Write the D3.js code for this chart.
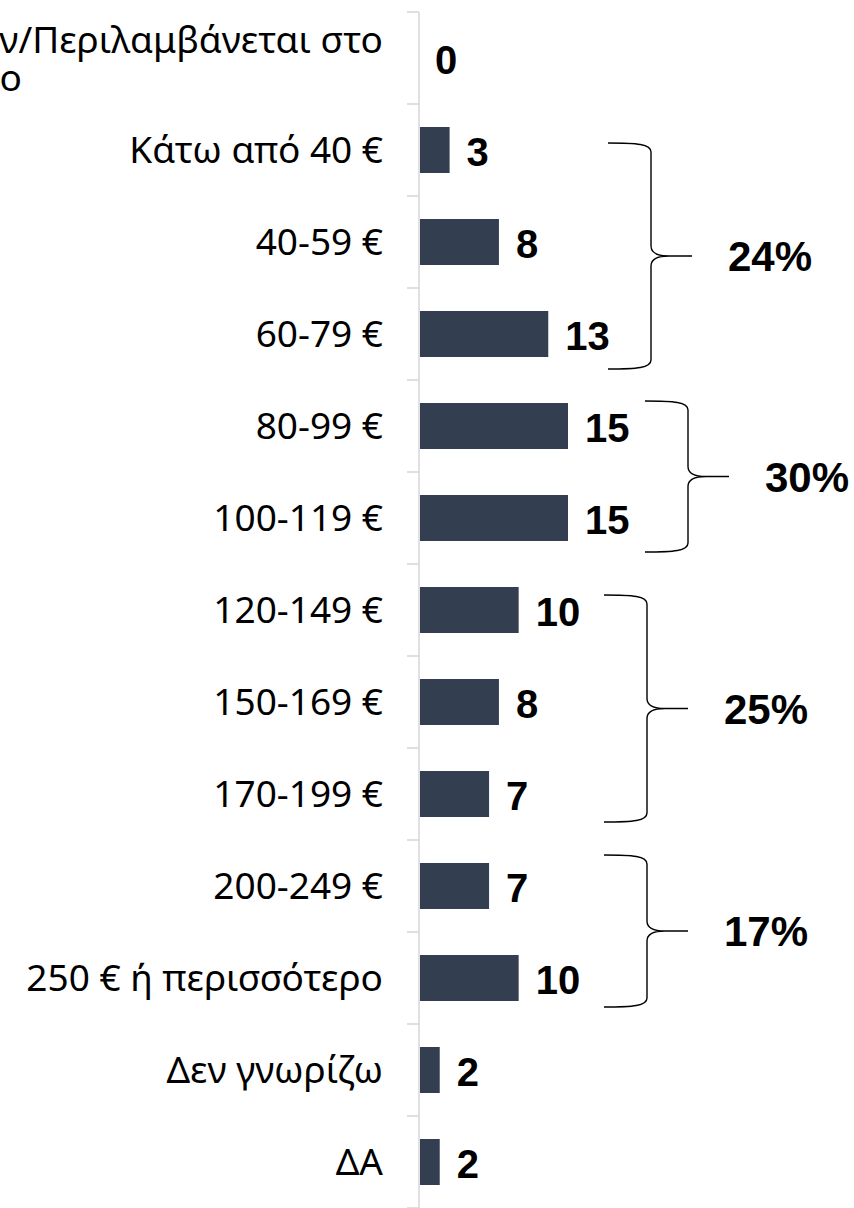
<!DOCTYPE html>
<html>
<head>
<meta charset="utf-8">
<script src="https://cdn.jsdelivr.net/npm/d3@7"></script>
<style>
body { margin: 0; background: #ffffff; }
</style>
</head>
<body>
<div id="chart"></div>
<script>
//Categories, top to bottom
let categories = [
    "Δωρεάν/Περιλαμβάνεται στο πακέτο",
    "Κάτω από 40 €",
    "40-59 €",
    "60-79 €",
    "80-99 €",
    "100-119 €",
    "120-149 €",
    "150-169 €",
    "170-199 €",
    "200-249 €",
    "250 € ή περισσότερο",
    "Δεν γνωρίζω",
    "ΔΑ"
];

//Values (%) for each category
let values = [0, 3, 8, 13, 15, 15, 10, 8, 7, 7, 10, 2, 2];

//Groups marked with a bracket on the right
let groupFirst = ["Κάτω από 40 €", "80-99 €", "120-149 €", "200-249 €"];
let groupLast = ["60-79 €", "100-119 €", "170-199 €", "250 € ή περισσότερο"];
let groupLabels = ["24%", "30%", "25%", "17%"];

let data = categories.map(function(c, i) { return { cat: c, value: values[i] }; });

//Set graph size
let svgWidth = 854;
let svgHeight = 1208;
let axisX = 419;
let barColor = "#333f50";

//Scales
let y = d3.scaleBand()
    .domain(categories)
    .range([12, svgHeight])
    .paddingInner(0.5)
    .paddingOuter(0.25);

let x = d3.scaleLinear()
    .domain([0, 15])
    .range([axisX + 1, axisX + 149]);

let svg = d3.select("#chart")
    .append("svg")
    .attr("width", svgWidth)
    .attr("height", svgHeight);

//Bars
svg.selectAll("rect.bar")
    .data(data)
    .enter()
    .append("rect")
    .attr("class", "bar")
    .attr("x", x(0))
    .attr("y", function(d) { return y(d.cat); })
    .attr("width", function(d) { return x(d.value) - x(0); })
    .attr("height", y.bandwidth())
    .attr("fill", barColor);

//Axis line and tick marks between categories
let half = y.step() * y.paddingInner() / 2;
let boundaries = categories.map(function(c) { return y(c) - half; });
boundaries.push(y(categories[categories.length - 1]) + y.bandwidth() + half);

svg.append("line")
    .attr("x1", axisX).attr("x2", axisX)
    .attr("y1", boundaries[0]).attr("y2", svgHeight)
    .style("stroke", "#d9d9d9")
    .style("stroke-width", 1.6);

svg.selectAll("line.tick")
    .data(boundaries)
    .enter()
    .append("line")
    .attr("class", "tick")
    .attr("x1", axisX - 12).attr("x2", axisX)
    .attr("y1", function(d) { return d; })
    .attr("y2", function(d) { return d; })
    .style("stroke", "#d9d9d9")
    .style("stroke-width", 1.6);

//Category labels (long one wraps, second line left aligned off the page)
let labelX = axisX - 36;
svg.selectAll("text.cat")
    .data(data)
    .enter()
    .append("text")
    .attr("class", "cat")
    .attr("text-anchor", "end")
    .style("font-family", "'Noto Sans', sans-serif")
    .style("font-size", "37px")
    .style("fill", "#000")
    .each(function(d) {
        let t = d3.select(this);
        let cy = y(d.cat) + y.bandwidth() / 2;
        let words = d.cat.split(" ");
        if (d.cat.length > 24) {
            t.append("tspan").attr("x", labelX).attr("y", cy - 5)
                .text(words.slice(0, -1).join(" "));
            t.append("tspan").attr("x", labelX - 361).attr("y", cy + 33)
                .text(words[words.length - 1]);
        } else {
            t.attr("x", labelX).attr("y", cy + 13).text(d.cat);
        }
    });

//Value labels
svg.selectAll("text.value")
    .data(data)
    .enter()
    .append("text")
    .attr("class", "value")
    .attr("x", function(d) { return x(d.value) + (d.value === 0 ? 15 : 17); })
    .attr("y", function(d) { return y(d.cat) + y.bandwidth() / 2 + 16; })
    .style("font-family", "'Liberation Sans', Arial, sans-serif")
    .style("font-weight", "bold")
    .style("font-size", "40px")
    .style("fill", "#000")
    .text(function(d) { return d.value; });

//Curly brackets with group totals
let braceLayout = [
    { top: 16, bottom: 12, dx: 83 },
    { top: -2, bottom: 11, dx: 120 },
    { top: 8, bottom: 5, dx: 79 },
    { top: -8, bottom: 6, dx: 79 }
];

function bracePath(xl, xv, xt, yt, ym, yb) {
    return "M" + xl + "," + yt +
        " C" + (xv - 14) + "," + yt + " " + xv + "," + (yt + 1) + " " + xv + "," + (yt + 9) +
        " L" + xv + "," + (ym - 10) +
        " C" + xv + "," + (ym - 3) + " " + (xv + 6) + "," + ym + " " + (xv + 18) + "," + ym +
        " L" + xt + "," + ym +
        " M" + (xv + 18) + "," + ym +
        " C" + (xv + 6) + "," + ym + " " + xv + "," + (ym + 3) + " " + xv + "," + (ym + 10) +
        " L" + xv + "," + (yb - 9) +
        " C" + xv + "," + (yb - 1) + " " + (xv - 14) + "," + yb + " " + xl + "," + yb;
}

groupLabels.forEach(function(label, i) {
    let lay = braceLayout[i];
    let yt = y(groupFirst[i]) + lay.top;
    let yb = y(groupLast[i]) + y.bandwidth() + lay.bottom;
    let ym = (yt + yb) / 2;
    let xv = x(15) + lay.dx;
    let xl = xv - 43;
    let xt = xv + 41;

    svg.append("path")
        .attr("d", bracePath(xl, xv, xt, yt, ym, yb))
        .style("fill", "none")
        .style("stroke", "#000")
        .style("stroke-width", 1.4);

    svg.append("text")
        .attr("x", xt + 36)
        .attr("y", ym + 15)
        .style("font-family", "'Liberation Sans', Arial, sans-serif")
        .style("font-weight", "bold")
        .style("font-size", "42px")
        .style("fill", "#000")
        .text(label);
});
</script>
</body>
</html>
